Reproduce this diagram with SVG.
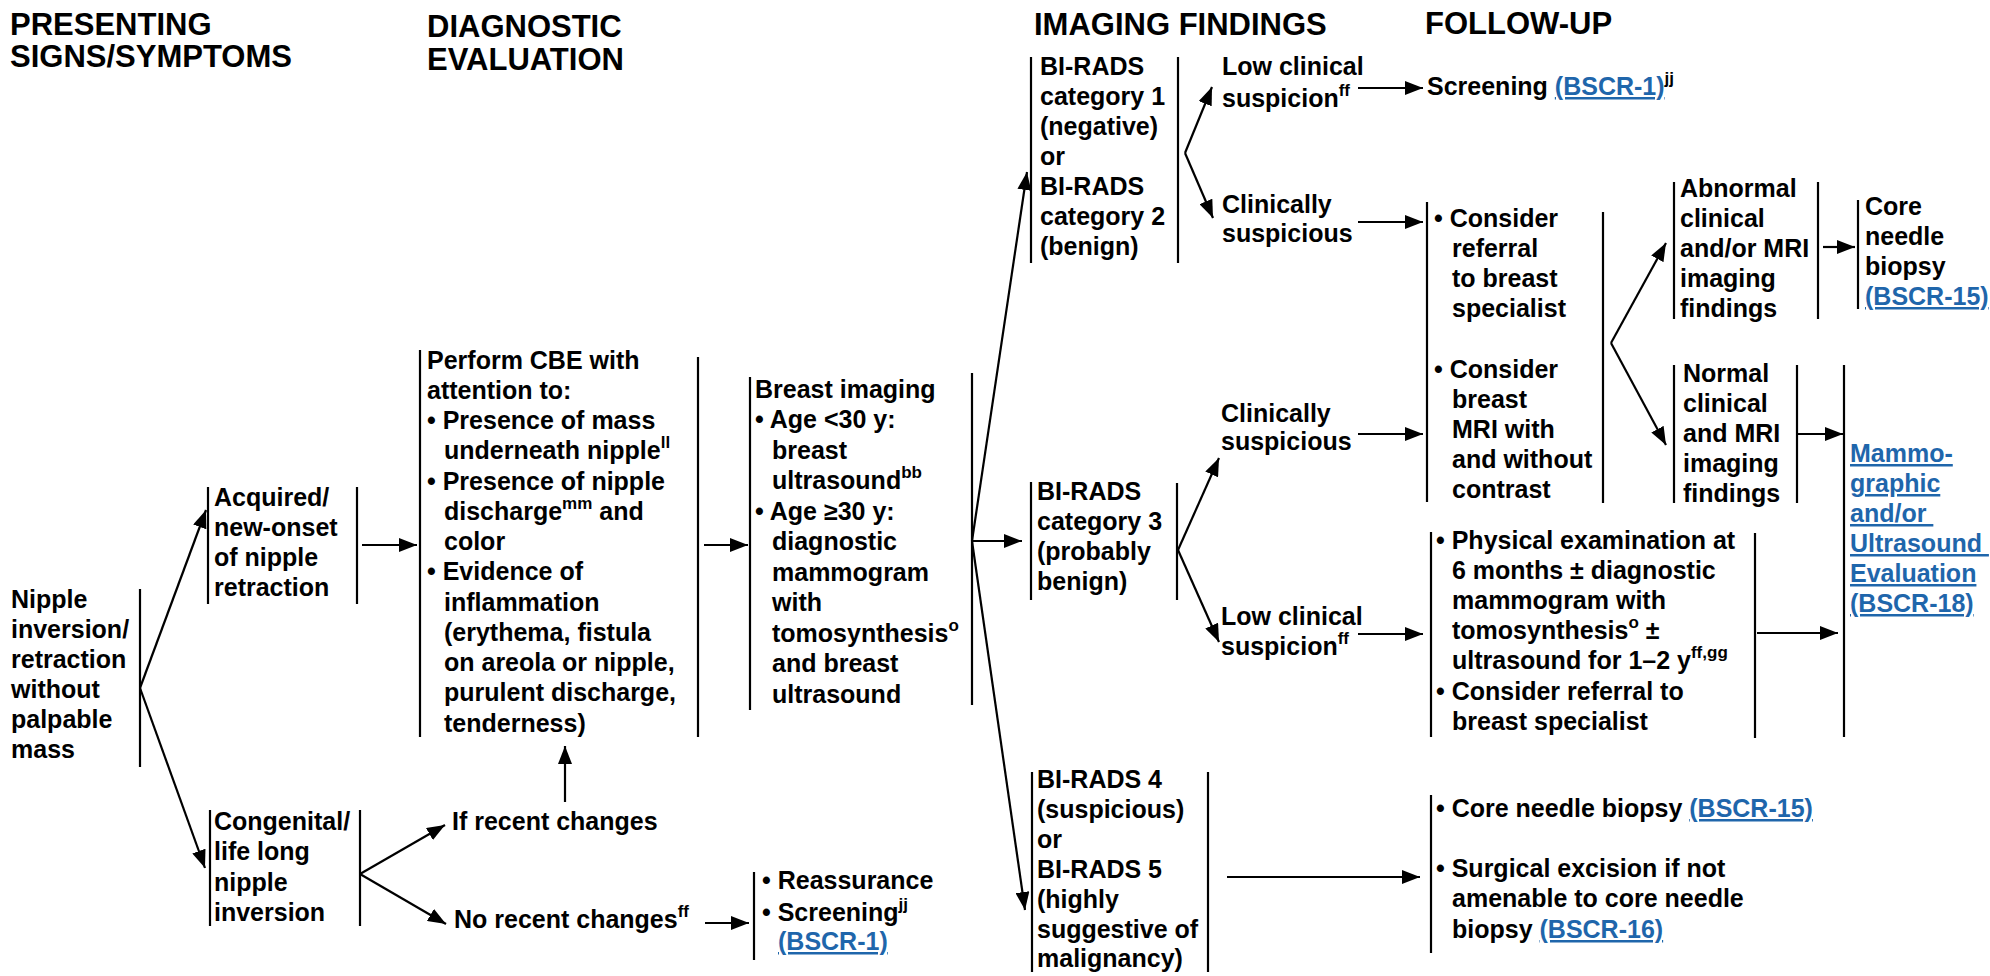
<svg xmlns="http://www.w3.org/2000/svg" width="1990" height="976" viewBox="0 0 1990 976">
<style>
text { font-family: "Liberation Sans", Arial, sans-serif; font-weight: bold; font-size: 25px; fill: #000; }
.h { font-size: 31px; }
.sup { font-size: 17px; }
.lnk { fill: #1f66ab; text-decoration: underline; }
.bar { stroke: #000; stroke-width: 2.2; fill: none; }
.c { stroke: #000; stroke-width: 2.2; fill: none; marker-end: url(#ah); }
</style>
<defs>
<marker id="ah" markerUnits="userSpaceOnUse" markerWidth="18" markerHeight="14" viewBox="0 0 18 14" refX="18" refY="7" orient="auto">
<path d="M0,0 L18,7 L0,14 z" fill="#000"/>
</marker>
</defs>
<rect width="1990" height="976" fill="#fff"/>

<g id="headers">
<text class="h" x="10" y="35">PRESENTING</text>
<text class="h" x="10" y="67">SIGNS/SYMPTOMS</text>
<text class="h" x="427" y="37">DIAGNOSTIC</text>
<text class="h" x="427" y="70">EVALUATION</text>
<text class="h" x="1034" y="35">IMAGING FINDINGS</text>
<text class="h" x="1425" y="34">FOLLOW-UP</text>
</g>

<g id="connectors">
<path class="c" d="M140,688 L206,510"/>
<path class="c" d="M140,688 L205,868"/>
<path class="c" d="M362,545 L417,545"/>
<path class="c" d="M704,545 L748,545"/>
<path class="c" d="M972,541 L1027,172"/>
<path class="c" d="M972,541 L1022,541"/>
<path class="c" d="M972,541 L1025,910"/>
<path class="c" d="M1185,153 L1212,87"/>
<path class="c" d="M1185,153 L1213,218"/>
<path class="c" d="M1358,88 L1423,88"/>
<path class="c" d="M1358,222 L1423,222"/>
<path class="c" d="M1611,343 L1666,243"/>
<path class="c" d="M1611,343 L1666,445"/>
<path class="c" d="M1823,247 L1855,247"/>
<path class="c" d="M1798,434 L1843,434"/>
<path class="c" d="M1178,550 L1219,458"/>
<path class="c" d="M1178,550 L1219,642"/>
<path class="c" d="M1358,434 L1423,434"/>
<path class="c" d="M1358,634 L1423,634"/>
<path class="c" d="M1757,633 L1838,633"/>
<path class="c" d="M1227,877 L1420,877"/>
<path class="c" d="M360,874 L445,825"/>
<path class="c" d="M360,874 L446,924"/>
<path class="c" d="M565,802 L565,746"/>
<path class="c" d="M705,923 L749,923"/>
</g>

<g id="n-nipple">
<line class="bar" x1="140" y1="589" x2="140" y2="767"/>
<text x="11" y="608">Nipple</text>
<text x="11" y="638">inversion/</text>
<text x="11" y="668">retraction</text>
<text x="11" y="698">without</text>
<text x="11" y="728">palpable</text>
<text x="11" y="758">mass</text>
</g>

<g id="n-acquired">
<line class="bar" x1="208" y1="487" x2="208" y2="604"/>
<line class="bar" x1="357" y1="487" x2="357" y2="604"/>
<text x="214" y="506">Acquired/</text>
<text x="214" y="536">new-onset</text>
<text x="214" y="566">of nipple</text>
<text x="214" y="596">retraction</text>
</g>

<g id="n-cbe">
<line class="bar" x1="420" y1="350" x2="420" y2="737"/>
<line class="bar" x1="698" y1="357" x2="698" y2="737"/>
<text x="427" y="369">Perform CBE with</text>
<text x="427" y="399">attention to:</text>
<text x="427" y="429">• Presence of mass</text>
<text x="444" y="459">underneath nipple<tspan class="sup" y="448">ll</tspan></text>
<text x="427" y="490">• Presence of nipple</text>
<text x="444" y="520">discharge<tspan class="sup" y="509">mm</tspan><tspan y="520"> and</tspan></text>
<text x="444" y="550">color</text>
<text x="427" y="580">• Evidence of</text>
<text x="444" y="611">inflammation</text>
<text x="444" y="641">(erythema, fistula</text>
<text x="444" y="671">on areola or nipple,</text>
<text x="444" y="701">purulent discharge,</text>
<text x="444" y="732">tenderness)</text>
</g>

<g id="n-imaging">
<line class="bar" x1="750" y1="377" x2="750" y2="710"/>
<line class="bar" x1="972" y1="373" x2="972" y2="705"/>
<text x="755" y="398">Breast imaging</text>
<text x="755" y="428">• Age &lt;30 y:</text>
<text x="772" y="459">breast</text>
<text x="772" y="489">ultrasound<tspan class="sup" y="478">bb</tspan></text>
<text x="755" y="520">• Age ≥30 y:</text>
<text x="772" y="550">diagnostic</text>
<text x="772" y="581">mammogram</text>
<text x="772" y="611">with</text>
<text x="772" y="642">tomosynthesis<tspan class="sup" y="631">o</tspan></text>
<text x="772" y="672">and breast</text>
<text x="772" y="703">ultrasound</text>
</g>

<g id="n-birads12">
<line class="bar" x1="1031" y1="57" x2="1031" y2="263"/>
<line class="bar" x1="1178" y1="57" x2="1178" y2="263"/>
<text x="1040" y="75">BI-RADS</text>
<text x="1040" y="105">category 1</text>
<text x="1040" y="135">(negative)</text>
<text x="1040" y="165">or</text>
<text x="1040" y="195">BI-RADS</text>
<text x="1040" y="225">category 2</text>
<text x="1040" y="255">(benign)</text>
</g>

<g id="n-low1">
<text x="1222" y="75">Low clinical</text>
<text x="1222" y="107">suspicion<tspan class="sup" y="96">ff</tspan></text>
</g>

<g id="n-screening">
<text x="1427" y="95">Screening <tspan class="lnk">(BSCR-1)</tspan><tspan class="sup" y="84">jj</tspan></text>
</g>

<g id="n-clin1">
<text x="1222" y="213">Clinically</text>
<text x="1222" y="242">suspicious</text>
</g>

<g id="n-consider">
<line class="bar" x1="1427" y1="202" x2="1427" y2="502"/>
<line class="bar" x1="1603" y1="212" x2="1603" y2="503"/>
<text x="1434" y="227">• Consider</text>
<text x="1452" y="257">referral</text>
<text x="1452" y="287">to breast</text>
<text x="1452" y="317">specialist</text>
<text x="1434" y="378">• Consider</text>
<text x="1452" y="408">breast</text>
<text x="1452" y="438">MRI with</text>
<text x="1452" y="468">and without</text>
<text x="1452" y="498">contrast</text>
</g>

<g id="n-abnormal">
<line class="bar" x1="1674" y1="182" x2="1674" y2="319"/>
<line class="bar" x1="1818" y1="182" x2="1818" y2="319"/>
<text x="1680" y="197">Abnormal</text>
<text x="1680" y="227">clinical</text>
<text x="1680" y="257">and/or MRI</text>
<text x="1680" y="287">imaging</text>
<text x="1680" y="317">findings</text>
</g>

<g id="n-corebiopsy">
<line class="bar" x1="1858" y1="200" x2="1858" y2="309"/>
<text x="1865" y="215">Core</text>
<text x="1865" y="245">needle</text>
<text x="1865" y="275">biopsy</text>
<text x="1865" y="305" class="lnk">(BSCR-15)</text>
</g>

<g id="n-normal">
<line class="bar" x1="1674" y1="365" x2="1674" y2="503"/>
<line class="bar" x1="1797" y1="365" x2="1797" y2="503"/>
<text x="1683" y="382">Normal</text>
<text x="1683" y="412">clinical</text>
<text x="1683" y="442">and MRI</text>
<text x="1683" y="472">imaging</text>
<text x="1683" y="502">findings</text>
</g>

<g id="n-mammo">
<line class="bar" x1="1844" y1="365" x2="1844" y2="737"/>
<text x="1850" y="462" class="lnk">Mammo-</text>
<text x="1850" y="492" class="lnk">graphic</text>
<text x="1850" y="522" class="lnk" xml:space="preserve">and/or </text>
<text x="1850" y="552" class="lnk" xml:space="preserve">Ultrasound </text>
<text x="1850" y="582" class="lnk">Evaluation</text>
<text x="1850" y="612" class="lnk">(BSCR-18)</text>
</g>

<g id="n-birads3">
<line class="bar" x1="1031" y1="482" x2="1031" y2="600"/>
<line class="bar" x1="1177" y1="483" x2="1177" y2="600"/>
<text x="1037" y="500">BI-RADS</text>
<text x="1037" y="530">category 3</text>
<text x="1037" y="560">(probably</text>
<text x="1037" y="590">benign)</text>
</g>

<g id="n-clin3">
<text x="1221" y="422">Clinically</text>
<text x="1221" y="450">suspicious</text>
</g>

<g id="n-low3">
<text x="1221" y="625">Low clinical</text>
<text x="1221" y="655">suspicion<tspan class="sup" y="644">ff</tspan></text>
</g>

<g id="n-physical">
<line class="bar" x1="1431" y1="532" x2="1431" y2="737"/>
<line class="bar" x1="1755" y1="533" x2="1755" y2="738"/>
<text x="1436" y="549">• Physical examination at</text>
<text x="1452" y="579">6 months ± diagnostic</text>
<text x="1452" y="609">mammogram with</text>
<text x="1452" y="639">tomosynthesis<tspan class="sup" y="628">o</tspan><tspan y="639"> ±</tspan></text>
<text x="1452" y="669">ultrasound for 1–2 y<tspan class="sup" y="658">ff,gg</tspan></text>
<text x="1436" y="700">• Consider referral to</text>
<text x="1452" y="730">breast specialist</text>
</g>

<g id="n-birads45">
<line class="bar" x1="1032" y1="772" x2="1032" y2="972"/>
<line class="bar" x1="1208" y1="772" x2="1208" y2="972"/>
<text x="1037" y="788">BI-RADS 4</text>
<text x="1037" y="818">(suspicious)</text>
<text x="1037" y="848">or</text>
<text x="1037" y="878">BI-RADS 5</text>
<text x="1037" y="908">(highly</text>
<text x="1037" y="938">suggestive of</text>
<text x="1037" y="967">malignancy)</text>
</g>

<g id="n-core">
<line class="bar" x1="1431" y1="795" x2="1431" y2="953"/>
<text x="1436" y="817">• Core needle biopsy <tspan class="lnk">(BSCR-15)</tspan></text>
<text x="1436" y="877">• Surgical excision if not</text>
<text x="1452" y="907">amenable to core needle</text>
<text x="1452" y="938">biopsy <tspan class="lnk">(BSCR-16)</tspan></text>
</g>

<g id="n-congenital">
<line class="bar" x1="210" y1="810" x2="210" y2="926"/>
<line class="bar" x1="360" y1="810" x2="360" y2="926"/>
<text x="214" y="830">Congenital/</text>
<text x="214" y="860">life long</text>
<text x="214" y="891">nipple</text>
<text x="214" y="921">inversion</text>
</g>

<g id="n-recent">
<text x="452" y="830">If recent changes</text>
</g>

<g id="n-norecent">
<text x="454" y="928">No recent changes<tspan class="sup" y="917">ff</tspan></text>
</g>

<g id="n-reassurance">
<line class="bar" x1="754" y1="872" x2="754" y2="960"/>
<text x="762" y="889">• Reassurance</text>
<text x="762" y="921">• Screening<tspan class="sup" y="910">jj</tspan></text>
<text x="778" y="950" class="lnk">(BSCR-1)</text>
</g>
</svg>
